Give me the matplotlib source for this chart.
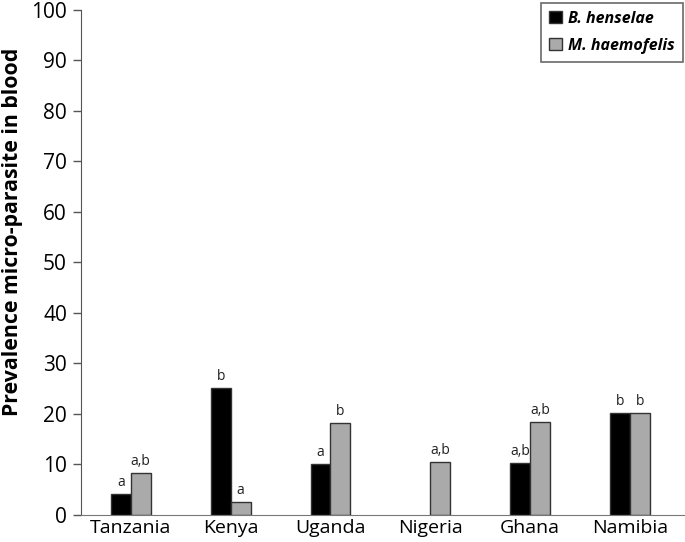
import matplotlib.pyplot as plt
import numpy as np

countries = ["Tanzania", "Kenya", "Uganda", "Nigeria", "Ghana", "Namibia"]
henselae = [4.2, 25.1, 10.0, 0.0, 10.3, 20.1]
haemofelis = [8.3, 2.5, 18.2, 10.5, 18.4, 20.1]
henselae_lbl = ["a", "b", "a", "", "a,b", "b"]
haemofelis_lbl = ["a,b", "a", "b", "a,b", "a,b", "b"]

plt.rcParams['font.family'] = ['Open Sans', 'DejaVu Sans']

fig = plt.figure(figsize=(6.85, 5.42), dpi=100)
ax = fig.add_axes([0.118, 0.05, 0.882, 0.932])

x = np.arange(len(countries)) + 0.5
w = 0.2
b1 = ax.bar(x - w / 2, henselae, w, color="black", edgecolor="#333333", linewidth=1,
            label="B. henselae")
b2 = ax.bar(x + w / 2, haemofelis, w, color="#aaaaaa", edgecolor="#333333", linewidth=1,
            label="M. haemofelis")
# no outline for empty bars
for r in list(b1) + list(b2):
    if r.get_height() == 0:
        r.set_linewidth(0)

# significance letters above the bars
for xi, v, t in zip(x - w / 2, henselae, henselae_lbl):
    if t:
        ax.text(xi, v + 0.8, t, ha="center", va="bottom", fontsize=10, color="#222222")
for xi, v, t in zip(x + w / 2, haemofelis, haemofelis_lbl):
    if t:
        ax.text(xi, v + 0.8, t, ha="center", va="bottom", fontsize=10, color="#222222")

ax.set_xlim(0, 6.05)
ax.set_ylim(0, 100)
ax.set_yticks(np.arange(0, 101, 10))
ax.set_xticks(x)
ax.set_xticklabels(countries)
ax.tick_params(axis="x", length=0, labelsize=14, pad=3)
ax.tick_params(axis="y", length=6, width=1, labelsize=15, color="#555555", pad=4)
ax.spines["top"].set_visible(False)
ax.spines["right"].set_visible(False)
ax.spines["left"].set_color("#555555")
ax.spines["bottom"].set_color("#777777")
ax.set_ylabel("Prevalence micro-parasite in blood", fontsize=15.3, fontweight="bold")
ax.yaxis.set_label_coords(-0.095, 0.561)

leg = ax.legend(loc="upper right", bbox_to_anchor=(0.997, 1.014), borderaxespad=0,
                fancybox=False, edgecolor="#444444", handlelength=0.8, handleheight=0.8,
                handletextpad=0.4, borderpad=0.5, labelspacing=0.7,
                prop={"style": "italic", "weight": "bold", "size": 11.5})
leg.get_frame().set_linewidth(1.2)

fig.savefig("out.png", dpi=100)
